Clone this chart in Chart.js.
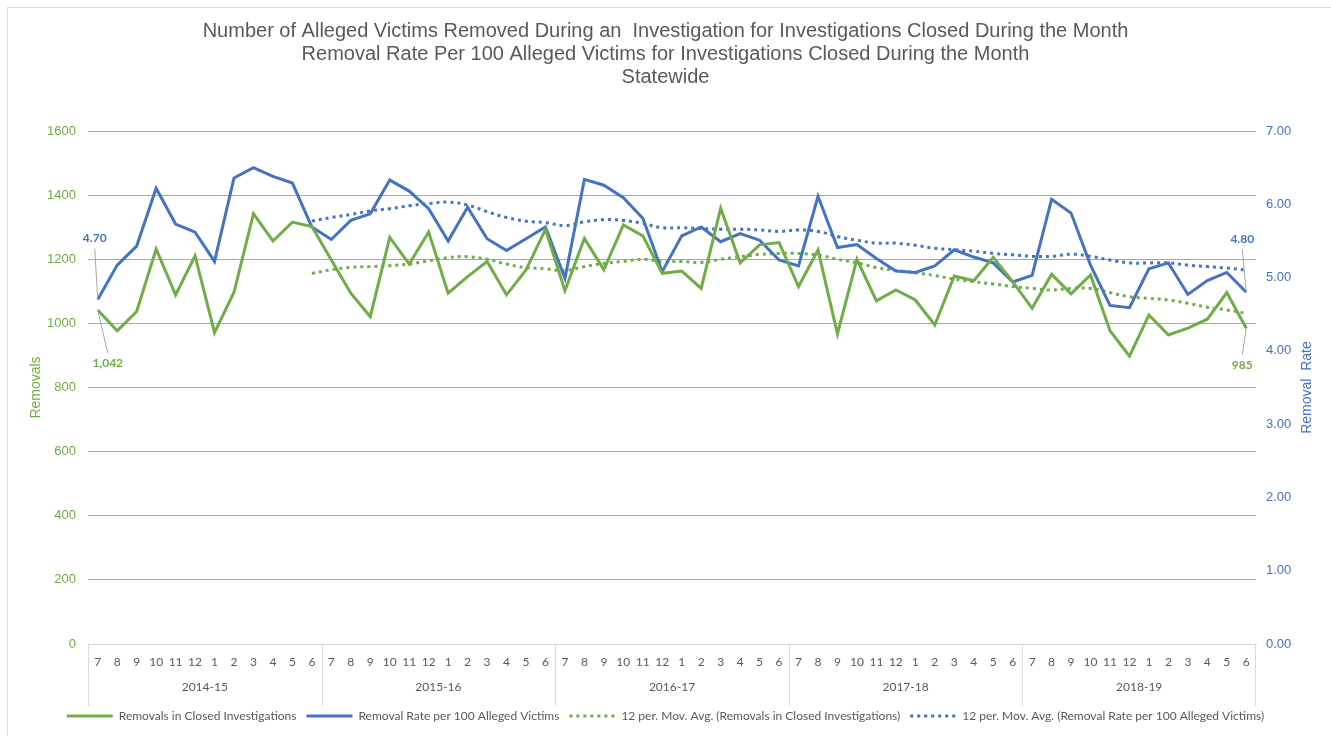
<!DOCTYPE html>
<html lang="en">
<head>
  <meta charset="UTF-8"/>
  <title>Removals Statewide</title>
  <script src="https://cdn.jsdelivr.net/npm/chart.js@4.4.0/dist/chart.umd.min.js"></script>
  <style>
    html, body { margin: 0; padding: 0; background: #fff; }
    #wrap { position: relative; width: 1331px; height: 736px; }
  </style>
</head>
<body>
  <div id="wrap"><canvas id="myChart"></canvas></div>

  <script>
    // fiscal years and month ticks (July..June)
    var fiscalYears = ['2014-15', '2015-16', '2016-17', '2017-18', '2018-19'];
    var monthTicks = ['7', '8', '9', '10', '11', '12', '1', '2', '3', '4', '5', '6'];

    // removals in closed investigations
    var removals = [
      1042, 977, 1037, 1232, 1089, 1211, 971, 1097, 1342, 1257, 1316, 1302,
      1198, 1094, 1021, 1268, 1185, 1285, 1094, 1146, 1193, 1089, 1167, 1293,
      1102, 1265, 1167, 1307, 1273, 1156, 1163, 1109, 1359, 1189, 1245, 1252,
      1115, 1229, 967, 1200, 1070, 1104, 1073, 995, 1148, 1133, 1206, 1130,
      1047, 1153, 1092, 1151, 977, 898, 1026, 964, 985, 1013, 1096, 985
    ];

    // removal rate per 100 alleged victims
    var removalRate = [
      4.70, 5.17, 5.43, 6.22, 5.73, 5.62, 5.22, 6.36, 6.50, 6.38, 6.29, 5.69,
      5.52, 5.78, 5.87, 6.33, 6.18, 5.94, 5.50, 5.96, 5.53, 5.37, 5.53, 5.69,
      4.99, 6.34, 6.26, 6.09, 5.81, 5.08, 5.57, 5.69, 5.49, 5.60, 5.51, 5.24,
      5.16, 6.11, 5.41, 5.45, 5.26, 5.09, 5.07, 5.16, 5.38, 5.28, 5.20, 4.94,
      5.03, 6.07, 5.88, 5.17, 4.62, 4.59, 5.12, 5.20, 4.77, 4.96, 5.07, 4.80
    ];

    // 12 per. moving average trendlines, as drawn in the picture
    var removalsAvg = [
      null, null, null, null, null, null, null, null, null, null, null, 1156,
      1167, 1175, 1177, 1180, 1185, 1195, 1205, 1208, 1200, 1185, 1174, 1170,
      1165, 1177, 1187, 1193, 1200, 1193, 1193, 1190, 1200, 1208, 1215, 1218,
      1218, 1213, 1200, 1189, 1174, 1165, 1158, 1149, 1138, 1130, 1123, 1115,
      1109, 1104, 1109, 1109, 1096, 1083, 1078, 1073, 1063, 1050, 1042, 1031
    ];
    var rateAvg = [
      null, null, null, null, null, null, null, null, null, null, null, 5.77,
      5.82, 5.86, 5.91, 5.94, 5.98, 6.01, 6.03, 5.99, 5.90, 5.82, 5.77, 5.75,
      5.71, 5.76, 5.79, 5.78, 5.74, 5.68, 5.68, 5.67, 5.66, 5.66, 5.65, 5.63,
      5.65, 5.63, 5.56, 5.51, 5.47, 5.47, 5.44, 5.40, 5.38, 5.36, 5.33, 5.31,
      5.29, 5.29, 5.32, 5.29, 5.24, 5.20, 5.20, 5.20, 5.17, 5.15, 5.13, 5.10
    ];

    var green = '#70AD47';
    var blue = '#4472C4';
    var grey = '#595959';
    var labelFont = 'Lato, "Open Sans", sans-serif';
    var arialFont = '"Liberation Sans", Arial, sans-serif';

    var labels = [];
    fiscalYears.forEach(function () { labels = labels.concat(monthTicks); });

    // draws the outer frame, the year row under the months and its box lines
    var categoryBox = {
      id: 'categoryBox',
      beforeDraw: function (chart) {
        var ctx = chart.ctx;
        ctx.save();
        ctx.strokeStyle = '#D9D9D9';
        ctx.lineWidth = 1;
        ctx.strokeRect(7.5, 7.5, 1400, 800);
        ctx.restore();
      },
      afterDraw: function (chart) {
        var ctx = chart.ctx;
        var x = chart.scales.x;
        var top = x.top;
        var bottom = x.top + 62;
        ctx.save();
        ctx.strokeStyle = '#D9D9D9';
        ctx.lineWidth = 1;
        ctx.fillStyle = grey;
        ctx.font = '12px ' + labelFont;
        ctx.textAlign = 'center';
        ctx.textBaseline = 'middle';
        var n = monthTicks.length;
        fiscalYears.forEach(function (yr, g) {
          var x0 = g === 0 ? x.left : (x.getPixelForValue(g * n - 1) + x.getPixelForValue(g * n)) / 2;
          var x1 = g === fiscalYears.length - 1 ? x.right : (x.getPixelForValue(g * n + n - 1) + x.getPixelForValue(g * n + n)) / 2;
          ctx.beginPath();
          ctx.moveTo(Math.round(x0) + 0.5, top);
          ctx.lineTo(Math.round(x0) + 0.5, bottom);
          if (g === fiscalYears.length - 1) {
            ctx.moveTo(Math.round(x1) - 0.5, top);
            ctx.lineTo(Math.round(x1) - 0.5, bottom);
          }
          ctx.stroke();
          ctx.fillText(yr, (x0 + x1) / 2, top + 43);
        });

        // right axis title reads bottom to top, like the left one
        var y1 = chart.scales.y1;
        ctx.save();
        ctx.translate(1307, (y1.top + y1.bottom) / 2);
        ctx.rotate(-Math.PI / 2);
        ctx.fillStyle = blue;
        ctx.font = '14px ' + arialFont;
        ctx.fillText('Removal  Rate', 0, 0);
        ctx.restore();
        ctx.restore();
      }
    };

    // first / last value labels with leader lines
    var endLabels = {
      id: 'endLabels',
      afterDatasetsDraw: function (chart) {
        var ctx = chart.ctx;
        var items = [
          { ds: 1, idx: 0, dx: -3, dy: -61, text: removalRate[0].toFixed(2), color: blue },
          { ds: 0, idx: 0, dx: 10, dy: 53, text: removals[0].toLocaleString('en-US'), color: green },
          { ds: 1, idx: removalRate.length - 1, dx: -4, dy: -53, text: removalRate[removalRate.length - 1].toFixed(2), color: blue },
          { ds: 0, idx: removals.length - 1, dx: -4, dy: 37, text: removals[removals.length - 1].toLocaleString('en-US'), color: green }
        ];
        ctx.save();
        items.forEach(function (it) {
          var pt = chart.getDatasetMeta(it.ds).data[it.idx];
          var tx = pt.x + it.dx;
          var ty = pt.y + it.dy;
          ctx.strokeStyle = '#A6A6A6';
          ctx.lineWidth = 1;
          ctx.beginPath();
          ctx.moveTo(tx, it.dy < 0 ? ty + 10 : ty - 10);
          ctx.lineTo(pt.x, pt.y);
          ctx.stroke();
          ctx.fillStyle = it.color;
          ctx.font = 'bold 12px ' + labelFont;
          ctx.textAlign = 'center';
          ctx.textBaseline = 'middle';
          ctx.fillText(it.text, tx, ty);
        });
        ctx.restore();
      }
    };

    var ctx = document.getElementById('myChart').getContext('2d');
    var chart = new Chart(ctx, {
      type: 'line',
      data: {
        labels: labels,
        datasets: [{
          label: 'Removals in Closed Investigations',
          data: removals,
          borderColor: green,
          backgroundColor: green,
          borderWidth: 3,
          pointRadius: 0,
          tension: 0,
          yAxisID: 'y'
        }, {
          label: 'Removal Rate per 100 Alleged Victims',
          data: removalRate,
          borderColor: blue,
          backgroundColor: blue,
          borderWidth: 3,
          pointRadius: 0,
          tension: 0,
          yAxisID: 'y1'
        }, {
          label: '12 per. Mov. Avg. (Removals in Closed Investigations)',
          data: removalsAvg,
          borderColor: green,
          backgroundColor: green,
          borderWidth: 3,
          borderDash: [3, 4],
          pointRadius: 0,
          tension: 0.4,
          yAxisID: 'y'
        }, {
          label: '12 per. Mov. Avg. (Removal Rate per 100 Alleged Victims)',
          data: rateAvg,
          borderColor: blue,
          backgroundColor: blue,
          borderWidth: 3,
          borderDash: [3, 4],
          pointRadius: 0,
          tension: 0.4,
          yAxisID: 'y1'
        }]
      },
      options: {
        responsive: true,
        maintainAspectRatio: false,
        animation: false,
        layout: { padding: { left: 8, right: 8, top: 0, bottom: 4 } },
        plugins: {
          title: {
            display: true,
            text: [
              'Number of Alleged Victims Removed During an  Investigation for Investigations Closed During the Month',
              'Removal Rate Per 100 Alleged Victims for Investigations Closed During the Month',
              'Statewide'
            ],
            color: grey,
            font: { family: arialFont, size: 20, weight: 'normal', lineHeight: 1.15 },
            padding: { top: 20, bottom: 42 }
          },
          legend: {
            position: 'bottom',
            labels: {
              usePointStyle: true,
              pointStyle: 'line',
              pointStyleWidth: 46,
              color: grey,
              font: { family: labelFont, size: 12 },
              padding: 10,
              generateLabels: function (chart) {
                var items = Chart.defaults.plugins.legend.labels.generateLabels(chart);
                items.forEach(function (item) {
                  var ds = chart.data.datasets[item.datasetIndex];
                  item.lineDash = ds.borderDash || [];
                  item.lineWidth = ds.borderWidth;
                  item.strokeStyle = ds.borderColor;
                });
                return items;
              }
            }
          },
          tooltip: { enabled: false }
        },
        scales: {
          x: {
            offset: true,
            grid: { display: false, drawTicks: false },
            border: { display: true, color: '#D9D9D9' },
            ticks: {
              autoSkip: false,
              maxRotation: 0,
              color: grey,
              font: { family: labelFont, size: 12 },
              padding: 11
            },
            afterFit: function (s) { s.height = 56; }
          },
          y: {
            position: 'left',
            min: 0,
            max: 1600,
            grid: {
              drawTicks: false,
              color: function (c) { return c.tick.value === 0 ? 'rgba(0,0,0,0)' : '#A6A6A6'; }
            },
            border: { display: false },
            ticks: {
              stepSize: 200,
              color: green,
              font: { family: arialFont, size: 13 },
              padding: 12,
              callback: function (v) { return String(v); }
            },
            title: {
              display: true,
              text: 'Removals',
              color: green,
              font: { family: arialFont, size: 14 },
              padding: { top: 20, bottom: 0 }
            },
            afterFit: function (s) { s.width = 80; }
          },
          y1: {
            position: 'right',
            min: 0,
            max: 7,
            grid: { display: false, drawTicks: false },
            border: { display: false },
            ticks: {
              stepSize: 1,
              color: blue,
              font: { family: arialFont, size: 13 },
              padding: 10,
              callback: function (v) { return v.toFixed(2); }
            },
            afterFit: function (s) { s.width = 67; }
          }
        }
      },
      plugins: [categoryBox, endLabels]
    });
  </script>
</body>
</html>
